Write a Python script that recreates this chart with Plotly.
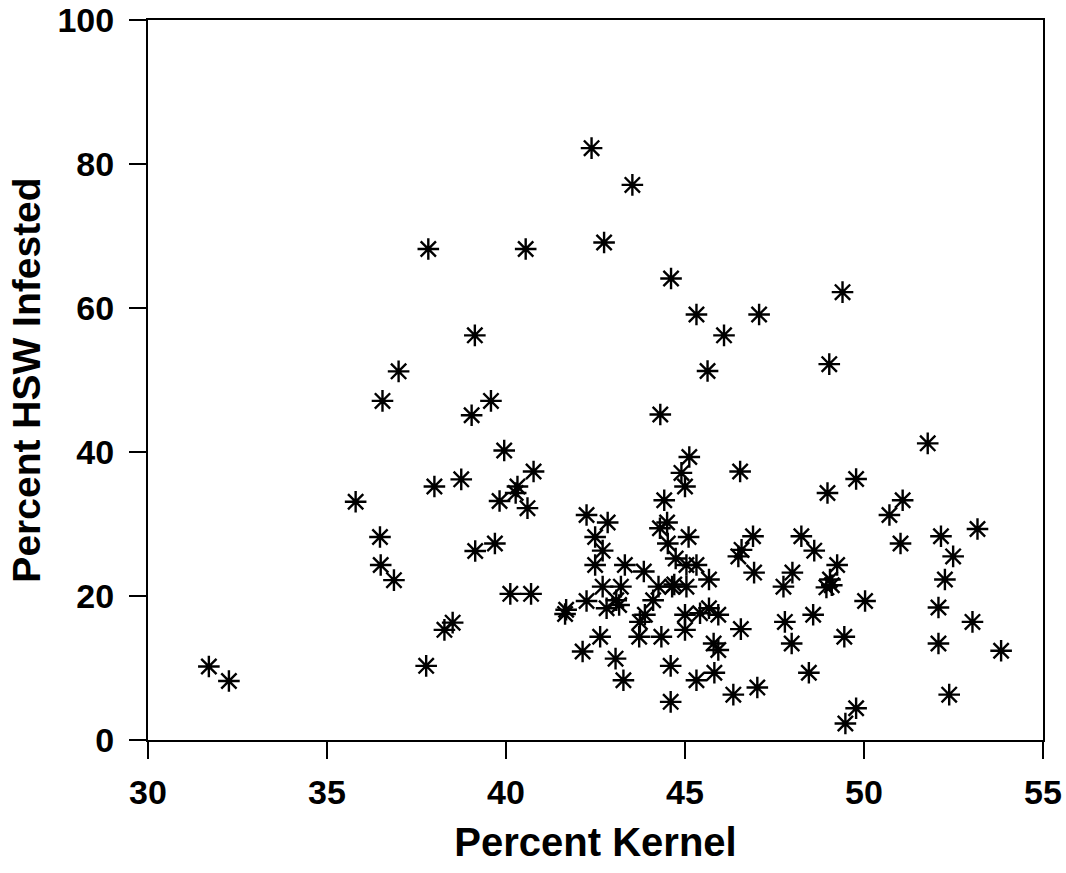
import plotly.graph_objects as go

percent_kernel = [
    31.70, 32.26, 35.80, 36.48, 36.55, 36.50, 36.87, 37.00, 37.83, 37.77,
    38.00, 38.28, 38.51, 38.75, 39.13, 39.04, 39.58, 39.14, 39.69, 39.82,
    39.95, 40.12, 40.32, 40.27, 40.55, 40.60, 40.70, 40.77, 41.65, 41.68,
    42.14, 42.25, 42.25, 42.39, 42.49, 42.49, 42.63, 42.70, 42.70, 42.74,
    42.81, 42.84, 43.06, 43.08, 43.16, 43.21, 43.28, 43.32, 43.53, 43.74,
    43.72, 43.85, 43.88, 44.11, 44.26, 44.30, 44.31, 44.34, 44.42, 44.50,
    44.52, 44.60, 44.60, 44.61, 44.64, 44.70, 44.74, 44.90, 45.00, 45.00,
    45.00, 45.04, 45.04, 45.10, 45.12, 45.32, 45.32, 45.32, 45.42, 45.63,
    45.67, 45.67, 45.80, 45.82, 45.93, 45.93, 46.09, 46.35, 46.49, 46.58,
    46.54, 46.56, 46.90, 46.93, 47.02, 47.07, 47.75, 47.79, 47.98, 48.00,
    48.25, 48.46, 48.58, 48.61, 48.95, 49.10, 49.05, 48.98, 49.03, 49.25,
    49.40, 49.45, 49.48, 49.78, 49.78, 50.03, 50.71, 51.02, 51.08, 51.78,
    52.08, 52.08, 52.15, 52.26, 52.38, 52.49, 53.03, 53.17, 53.83,
]
percent_hsw = [
    10.2, 8.2, 33.1, 28.2, 47.1, 24.3, 22.2, 51.2, 68.2, 10.3,
    35.2, 15.3, 16.3, 36.2, 56.2, 45.1, 47.1, 26.25, 27.3, 33.2,
    40.2, 20.3, 35.2, 34.3, 68.2, 32.2, 20.3, 37.3, 17.5, 18.1,
    12.3, 19.3, 31.25, 82.2, 28.2, 24.3, 14.35, 26.3, 21.3, 69.1,
    18.3, 30.2, 11.3, 19.4, 18.75, 21.3, 8.3, 24.3, 77.1, 16.4,
    14.35, 23.4, 17.4, 19.4, 21.3, 29.4, 45.2, 14.35, 33.3, 30.2,
    27.3, 10.3, 5.3, 64.1, 21.3, 21.6, 25.2, 37.1, 35.2, 17.4,
    15.3, 24.3, 21.3, 28.2, 39.3, 24.3, 59.1, 8.3, 17.6, 51.25,
    22.3, 18.3, 13.4, 9.35, 17.4, 12.5, 56.2, 6.3, 25.5, 26.4,
    37.3, 15.4, 28.3, 23.25, 7.3, 59.1, 21.3, 16.4, 13.4, 23.25,
    28.3, 9.35, 17.4, 26.3, 21.2, 21.5, 22.3, 34.3, 52.2, 24.3,
    62.2, 14.35, 2.3, 4.4, 36.25, 19.3, 31.25, 27.3, 33.3, 41.2,
    18.4, 13.4, 28.3, 22.3, 6.3, 25.5, 16.4, 29.3, 12.4,
]

x_ticks = [30, 35, 40, 45, 50, 55]
y_ticks = [0, 20, 40, 60, 80, 100]

FONT = "Liberation Sans"

fig = go.Figure(
    go.Scatter(
        x=percent_kernel,
        y=percent_hsw,
        mode="markers",
        marker=dict(symbol="asterisk-open", size=18, color="black",
                    line=dict(color="black", width=2.4)),
        hoverinfo="x+y",
    )
)

axis_common = dict(
    showgrid=False,
    zeroline=False,
    showline=True,
    linecolor="black",
    linewidth=2,
    mirror=True,
    ticks="outside",
    ticklen=17,
    tickwidth=2,
    tickcolor="black",
    automargin=False,
    ticklabeloverflow="allow",
    tickfont=dict(family=FONT, size=34, color="black", weight="bold"),
)

fig.update_xaxes(
    range=[30, 55], tickvals=x_ticks, ticktext=[str(v) for v in x_ticks],
    ticklabelstandoff=4,
    title=dict(text="Percent Kernel", standoff=18,
               font=dict(family=FONT, size=40, color="black", weight="bold")),
    **axis_common,
)
fig.update_yaxes(
    range=[0, 100], tickvals=y_ticks, ticktext=[str(v) for v in y_ticks],
    ticklabelstandoff=8,
    title=dict(text="Percent HSW Infested", standoff=5,
               font=dict(family=FONT, size=39, color="black", weight="bold")),
    **axis_common,
)

fig.update_layout(
    width=1066,
    height=873,
    margin=dict(l=148, r=23, t=20, b=133),
    paper_bgcolor="white",
    plot_bgcolor="white",
    showlegend=False,
)

fig.write_html(
    "out.html",
    config={"displayModeBar": False},
    post_script="document.body.style.margin='0';document.body.style.overflow='hidden';",
)
